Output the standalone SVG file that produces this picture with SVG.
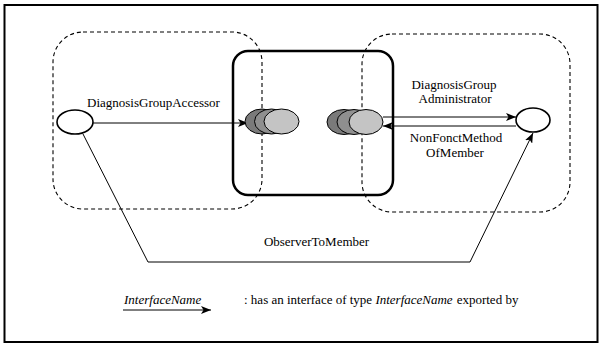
<svg xmlns="http://www.w3.org/2000/svg" width="601" height="344" viewBox="0 0 601 344">
<style>
text{font-family:"Liberation Serif","Times New Roman",serif;font-size:13px;fill:#000}
.it{font-style:italic}
.dash{fill:none;stroke:#000;stroke-width:1.1;stroke-dasharray:4 3}
.node{fill:#fff;stroke:#000;stroke-width:1.6}
.c1{fill:#7a7a7a;stroke:#000;stroke-width:1}
.c2{fill:#8f8f8f;stroke:#000;stroke-width:1}
.c3{fill:#c4c4c4;stroke:#000;stroke-width:1}
.edge{fill:none;stroke:#000;stroke-width:1}
</style>
<defs>
<marker id="arr" viewBox="0 0 10 8" refX="10" refY="4" markerWidth="10" markerHeight="8" markerUnits="userSpaceOnUse" orient="auto">
<path d="M0,0 L10,4 L0,8 L2.5,4 z" fill="#000"/>
</marker>
</defs>
<rect x="4.5" y="5" width="593" height="337" fill="#fff" stroke="#000" stroke-width="2"/>
<g id="groupLeft"><rect class="dash" x="53" y="32" width="209" height="177" rx="30"/></g>
<g id="groupRight"><rect class="dash" x="362" y="34" width="208" height="178" rx="30"/></g>
<g id="component"><rect x="233" y="51" width="160" height="144" rx="15" fill="none" stroke="#000" stroke-width="2.5"/></g>
<g id="connectors">
<line class="edge" x1="93" y1="123" x2="248" y2="123" marker-end="url(#arr)"/>
<line class="edge" x1="383" y1="117" x2="516" y2="117" marker-end="url(#arr)"/>
<line class="edge" x1="516" y1="126" x2="383" y2="126" marker-end="url(#arr)"/>
<polyline class="edge" points="83,134 148,262 470,262 533,133" marker-end="url(#arr)"/>
</g>
<g id="accessor"><ellipse class="node" cx="75" cy="122" rx="18" ry="12"/></g>
<g id="member"><ellipse class="node" cx="533" cy="120" rx="17" ry="12"/></g>
<g id="interfacesLeft">
<ellipse class="c1" cx="262" cy="121.5" rx="17" ry="12.5"/>
<ellipse class="c2" cx="271.5" cy="121.5" rx="17" ry="12.5"/>
<ellipse class="c3" cx="281.5" cy="121.5" rx="17.5" ry="12.5"/>
</g>
<g id="interfacesRight">
<ellipse class="c1" cx="344" cy="122" rx="17" ry="12.5"/>
<ellipse class="c2" cx="354" cy="122" rx="17" ry="12.5"/>
<ellipse class="c3" cx="366" cy="122" rx="17" ry="12.5"/>
</g>
<g id="labels">
<text x="87" y="107">DiagnosisGroupAccessor</text>
<text x="454" y="89" text-anchor="middle">DiagnosisGroup</text>
<text x="455" y="103" text-anchor="middle">Administrator</text>
<text x="456" y="142" text-anchor="middle">NonFonctMethod</text>
<text x="455" y="157" text-anchor="middle">OfMember</text>
<text x="316.5" y="246" text-anchor="middle">ObserverToMember</text>
</g>
<g id="legend">
<text class="it" x="124" y="304">InterfaceName</text>
<line class="edge" x1="123" y1="310" x2="211" y2="310" marker-end="url(#arr)"/>
<text x="244" y="304">: has an interface of type <tspan class="it">InterfaceName</tspan><tspan dx="4">exported by</tspan></text>
</g>
</svg>
